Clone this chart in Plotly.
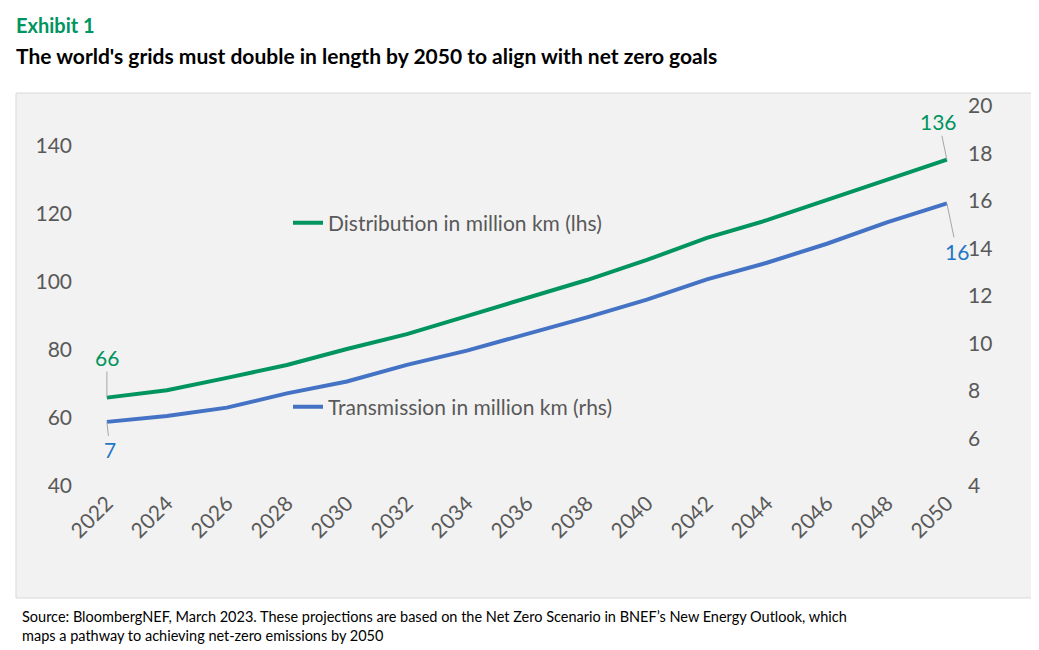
import plotly.graph_objects as go

years = [2022, 2024, 2026, 2028, 2030, 2032, 2034, 2036, 2038, 2040, 2042, 2044, 2046, 2048, 2050]
distribution = [66, 68.2, 71.8, 75.6, 80.3, 84.7, 90, 95.3, 100.6, 106.5, 113, 118.2, 124.1, 130, 136]
transmission = [6.7, 6.95, 7.3, 7.9, 8.4, 9.1, 9.7, 10.4, 11.1, 11.85, 12.7, 13.4, 14.2, 15.1, 15.9]

green = "#00945e"
blue = "#4472c4"
grey = "#595959"

# plot area in pixels: x 65..959, y 98..478
def px(x):
    return (x - 65) / 894

def py(y):
    return (478 - y) / 380

fig = go.Figure()
fig.add_trace(go.Scatter(x=years, y=distribution, mode="lines", name="Distribution in million km (lhs)",
                         line=dict(color=green, width=4), legend="legend", showlegend=True))
fig.add_trace(go.Scatter(x=years, y=transmission, mode="lines", name="Transmission in million km (rhs)",
                         line=dict(color=blue, width=4), yaxis="y2", legend="legend2", showlegend=True))

# grey panel behind the chart
fig.add_shape(type="rect", xref="paper", yref="paper", x0=px(8), x1=px(1030), y0=py(590), y1=py(85),
              fillcolor="#f2f2f2", line=dict(color="#d9d9d9", width=1), layer="below")

# end point labels
fig.add_annotation(x=2022, y=66, text="66", ax=0, ay=-40, showarrow=True, arrowhead=0, arrowwidth=1,
                   arrowcolor="#a6a6a6", font=dict(color=green, size=21))
fig.add_annotation(x=2050, y=136, text="136", ax=-8, ay=-38, showarrow=True, arrowhead=0, arrowwidth=1,
                   arrowcolor="#a6a6a6", font=dict(color=green, size=21))
fig.add_annotation(x=2022, y=6.7, yref="y2", text="7", ax=3, ay=28, showarrow=True, arrowhead=0, arrowwidth=1,
                   arrowcolor="#a6a6a6", font=dict(color="#1f77c4", size=21))
fig.add_annotation(x=2050, y=15.9, yref="y2", text="16", ax=10, ay=48, showarrow=True, arrowhead=0, arrowwidth=1,
                   arrowcolor="#a6a6a6", font=dict(color="#1f77c4", size=21))

# titles and source
fig.add_annotation(x=px(6), y=py(3), xref="paper", yref="paper", xanchor="left", yanchor="top",
                   showarrow=False, text="<b>Exhibit 1</b>", font=dict(color=green, size=20))
fig.add_annotation(x=px(6), y=py(33), xref="paper", yref="paper", xanchor="left", yanchor="top",
                   showarrow=False, text="<b>The world's grids must double in length by 2050 to align with net zero goals</b>",
                   font=dict(color="black", size=21))
fig.add_annotation(x=px(12), y=py(598), xref="paper", yref="paper", xanchor="left", yanchor="top",
                   showarrow=False, align="left",
                   text="Source: BloombergNEF, March 2023. These projections are based on the Net Zero Scenario in BNEF’s New Energy Outlook, which<br>maps a pathway to achieving net-zero emissions by 2050",
                   font=dict(color="black", size=14.5))

fig.update_layout(
    width=1039, height=650,
    paper_bgcolor="white", plot_bgcolor="#f2f2f2",
    font=dict(family="Lato, DejaVu Sans, sans-serif", color=grey),
    margin=dict(l=65, r=80, t=98, b=172),
    showlegend=True,
    xaxis=dict(range=[2020.87, 2050.67], tickvals=years, tickangle=-45, tickfont=dict(size=21, color=grey),
               showgrid=False, showline=False, zeroline=False),
    yaxis=dict(range=[40, 151.8], tickvals=[40, 60, 80, 100, 120, 140], tickfont=dict(size=21, color=grey),
               showgrid=False, zeroline=False),
    yaxis2=dict(range=[4, 20], dtick=2, overlaying="y", side="right", tickfont=dict(size=21, color=grey),
                showgrid=False, zeroline=False),
    legend=dict(x=px(280), y=py(215), xanchor="left", yanchor="middle", bgcolor="rgba(0,0,0,0)",
                font=dict(size=21, color=grey)),
    legend2=dict(x=px(280), y=py(399), xanchor="left", yanchor="middle", bgcolor="rgba(0,0,0,0)",
                 font=dict(size=21, color=grey)),
)

fig.write_html("out.html")
